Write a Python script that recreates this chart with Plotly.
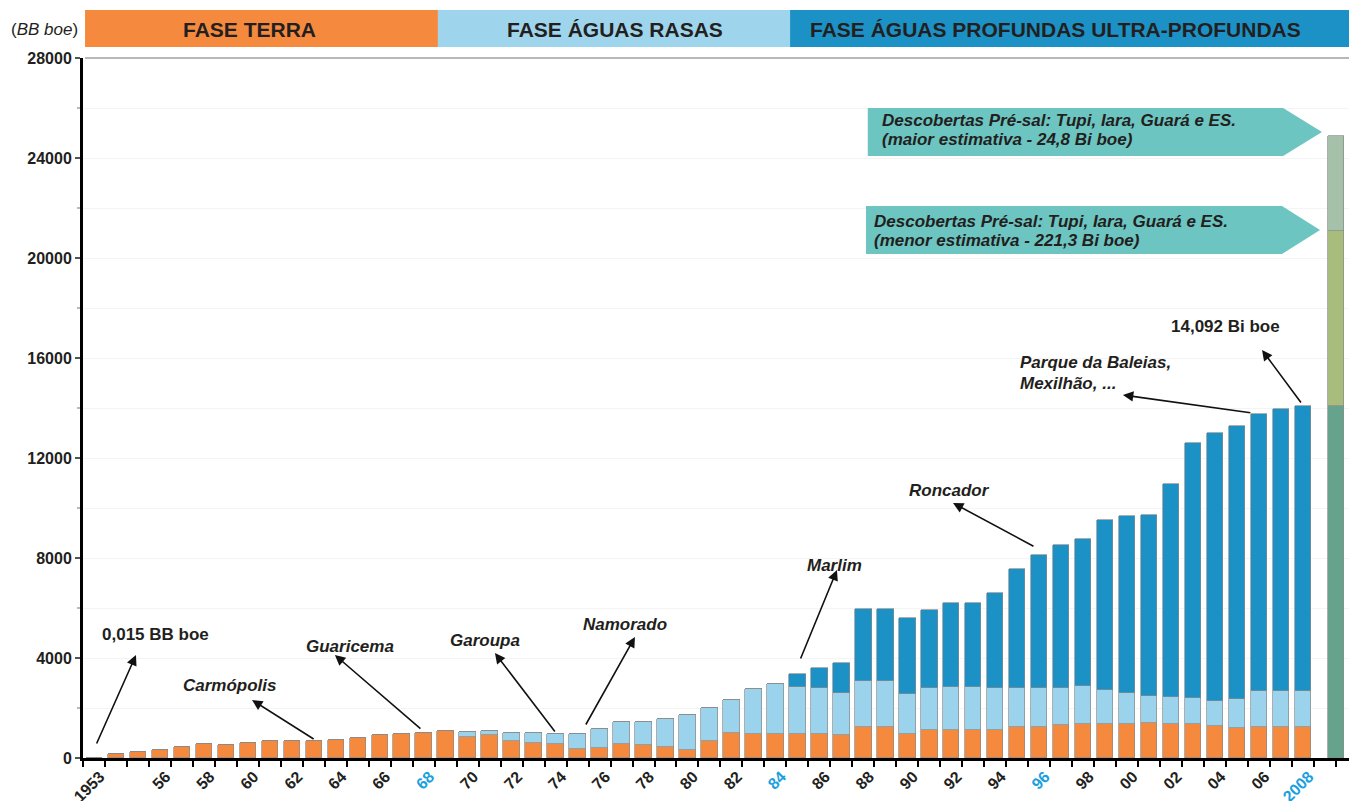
import plotly.graph_objects as go

# Reservas provadas (MM boe) por ano e por fase
years = list(range(1953, 2009))

terra = [15, 170, 260, 340, 460, 550, 540, 620, 700, 700,
         700, 740, 820, 930, 980, 1020, 1090, 830, 930, 680,
         590, 560, 370, 410, 580, 540, 460, 340, 690, 990,
         970, 970, 980, 980, 940, 1250, 1240, 970, 1130, 1130,
         1130, 1130, 1230, 1230, 1330, 1370, 1370, 1360, 1410, 1370,
         1370, 1290, 1220, 1260, 1260, 1260]

rasas = [0, 0, 0, 0, 0, 0, 0, 0, 0, 0,
         0, 0, 0, 0, 0, 0, 0, 230, 160, 330,
         400, 410, 580, 770, 850, 910, 1110, 1390, 1330, 1320,
         1780, 2010, 1850, 1810, 1670, 1850, 1840, 1600, 1670, 1730,
         1700, 1670, 1570, 1580, 1480, 1500, 1360, 1250, 1090, 1060,
         1020, 1010, 1150, 1440, 1440, 1410]

profundas = [0, 0, 0, 0, 0, 0, 0, 0, 0, 0,
             0, 0, 0, 0, 0, 0, 0, 0, 0, 0,
             0, 0, 0, 0, 0, 0, 0, 0, 0, 0,
             0, 0, 540, 830, 1210, 2870, 2890, 3020, 3140, 3350,
             3380, 3810, 4750, 5320, 5730, 5910, 6800, 7080, 7210, 8550,
             10200, 10720, 10930, 11050, 11270, 11422]

# Barra do pré-sal (posicionada após 2008)
presal_x = 2009.5
presal_base = 14092
presal_menor = 21100
presal_maior = 24900

# rótulos dos eixos
label_years = [1953] + list(range(1956, 2009, 2))
destaque = {1968, 1984, 1996, 2008}
y_ticks = list(range(0, 28001, 4000))

C_TERRA = "#f58a3f"
C_RASAS = "#9ad3eb"
C_PROF = "#1b91c6"
C_TXT = "#231f20"
C_AZUL_TXT = "#1ba0de"
FONT = "Liberation Sans, Arial, sans-serif"

ticktext = []
for y in label_years:
    t = str(y) if y in (1953, 2008) else f"{y % 100:02d}"
    if y in destaque:
        t = f'<span style="color:{C_AZUL_TXT}">{t}</span>'
    ticktext.append(t)

fig = go.Figure()

bar_line = dict(color="#8a8a8a", width=0.7)
for vals, col, nome in [(terra, C_TERRA, "Terra"), (rasas, C_RASAS, "Águas rasas"),
                        (profundas, C_PROF, "Águas profundas")]:
    fig.add_trace(go.Bar(x=years, y=vals, marker=dict(color=col, line=bar_line),
                         width=0.75, name=nome, showlegend=False))

# pré-sal
fig.add_trace(go.Bar(x=[presal_x], y=[presal_base], width=0.75, showlegend=False,
                     marker=dict(color="#65a38c", line=bar_line)))
fig.add_trace(go.Bar(x=[presal_x], y=[presal_menor - presal_base], width=0.75, showlegend=False,
                     marker=dict(color="#a8bc7c", line=bar_line)))
fig.add_trace(go.Bar(x=[presal_x], y=[presal_maior - presal_menor], width=0.75, showlegend=False,
                     marker=dict(color="#a6c1a9", line=bar_line)))

shapes = []
# faixas das fases
for x0, x1, col in [(0.0016, 0.2786, C_TERRA), (0.2786, 0.555, "#9fd5ec"), (0.555, 1.0, C_PROF)]:
    shapes.append(dict(type="rect", xref="paper", yref="paper", x0=x0, x1=x1,
                       y0=1.0157, y1=1.0686, fillcolor=col, line=dict(width=0), layer="above"))
# linha superior
shapes.append(dict(type="line", xref="paper", yref="paper", x0=0.0016, x1=1, y0=1, y1=1,
                   line=dict(color="#a0a0a0", width=1.5)))
# setas de chamada do pré-sal
for l, r, tip, top, bot in [(0.616, 0.942, 0.9725, 0.9286, 0.86),
                            (0.6146, 0.9411, 0.971, 0.7886, 0.7200)]:
    mid = (top + bot) / 2
    shapes.append(dict(type="path", xref="paper", yref="paper",
                       path=f"M {l},{bot} L {r},{bot} L {tip},{mid} L {r},{top} L {l},{top} Z",
                       fillcolor="#6cc5c1", line=dict(width=0)))

ann = []
for txt, xc in [("FASE TERRA", 0.1303), ("FASE ÁGUAS RASAS", 0.4176),
                ("FASE ÁGUAS PROFUNDAS ULTRA-PROFUNDAS", 0.7637)]:
    ann.append(dict(text=txt, x=xc, y=1.0414, xref="paper", yref="paper", showarrow=False,
                    xanchor="center", yanchor="middle",
                    font=dict(size=21, color=C_TXT, weight="bold")))
ann.append(dict(text="(<i>BB boe</i>)", x=-0.0306, y=1.0414, xref="paper", yref="paper",
                xanchor="center", yanchor="middle",
                showarrow=False, font=dict(size=17, color=C_TXT)))

# textos das caixas
for txt, x, y in [("Descobertas Pré-sal: Tupi, Iara, Guará e ES.", 0.6256, 0.9103),
                  ("(maior estimativa - 24,8 Bi boe)", 0.6256, 0.8829),
                  ("Descobertas Pré-sal: Tupi, Iara, Guará e ES.", 0.6193, 0.7661),
                  ("(menor estimativa - 221,3 Bi boe)", 0.6193, 0.7390)]:
    ann.append(dict(text=f"<i>{txt}</i>", x=x, y=y, xref="paper", yref="paper",
                    xanchor="left", yanchor="middle", showarrow=False,
                    font=dict(size=17, color=C_TXT, weight="bold")))

# rótulos de campos
for txt, x, y, it, xa in [("0,015 BB boe", 1955.78, 4960, False, "center"),
                          ("Carmópolis", 1959.19, 2920, True, "center"),
                          ("Guaricema", 1964.65, 4480, True, "center"),
                          ("Garoupa", 1970.79, 4720, True, "center"),
                          ("Namorado", 1977.16, 5360, True, "center"),
                          ("Marlim", 1986.71, 7720, True, "center"),
                          ("Roncador", 1991.94, 10720, True, "center"),
                          ("Parque da Baleias,", 1995.04, 15840, True, "left"),
                          ("Mexilhão, ...", 1995.04, 15000, True, "left"),
                          ("14,092 Bi boe", 2004.46, 17280, False, "center")]:
    ann.append(dict(text=f"<i>{txt}</i>" if it else txt, x=x, y=y, xanchor=xa,
                    yanchor="middle", showarrow=False,
                    font=dict(size=17, color=C_TXT, weight="bold")))

# setas (cauda perto da barra, ponta perto do rótulo)
for x, y, ax, ay in [(1954.91, 4120, 1953.09, 520),
                     (1960.19, 2320, 1963.06, 720),
                     (1963.96, 4120, 1967.92, 1120),
                     (1971.24, 4200, 1974.02, 1000),
                     (1977.61, 4840, 1975.34, 1280),
                     (1986.80, 7520, 1985.12, 3920),
                     (1992.08, 10200, 1995.81, 8440),
                     (1999.81, 14520, 2005.68, 13800),
                     (2006.14, 16320, 2007.96, 14160)]:
    ann.append(dict(text="", x=x, y=y, ax=ax, ay=ay, axref="x", ayref="y",
                    showarrow=True, arrowhead=2, arrowsize=1.3, arrowwidth=1.6,
                    arrowcolor="#111111", standoff=0, startstandoff=0))

# a página tem 8px de margem no corpo: compensar no tamanho e nas margens
fig.update_layout(
    width=1349, height=793,
    margin=dict(l=75, r=0, t=50, b=43),
    barmode="stack", bargap=0,
    paper_bgcolor="white", plot_bgcolor="white",
    font=dict(family=FONT, color=C_TXT),
    shapes=shapes, annotations=ann, showlegend=False,
    xaxis=dict(range=[1952.5, 2010.46], tickmode="array", tickvals=label_years,
               ticktext=ticktext, tickangle=-45, ticks="", automargin=False,
               ticklabelshift=6,
               tickfont=dict(size=16, weight="bold", color=C_TXT),
               showline=True, linewidth=3, linecolor="black", showgrid=False,
               zeroline=False,
               minor=dict(tickmode="array", tickvals=[y + 0.5 for y in range(1952, 2011)],
                          ticks="outside", ticklen=6, tickwidth=2, tickcolor="black",
                          showgrid=False)),
    yaxis=dict(range=[0, 28000], tickmode="array", tickvals=y_ticks,
               ticktext=[str(v) for v in y_ticks],
               ticks="outside", ticklen=5, tickwidth=1.5, tickcolor="#555",
               tickfont=dict(size=16, weight="bold", color=C_TXT), automargin=False,
               showline=True, linewidth=3, linecolor="black",
               showgrid=True, gridcolor="#f4f4f4", zeroline=False,
               minor=dict(dtick=2000, ticks="outside", ticklen=3, tickcolor="#bbbbbb",
                          showgrid=True, gridcolor="#f4f4f4")),
)

fig.write_html("out.html")
